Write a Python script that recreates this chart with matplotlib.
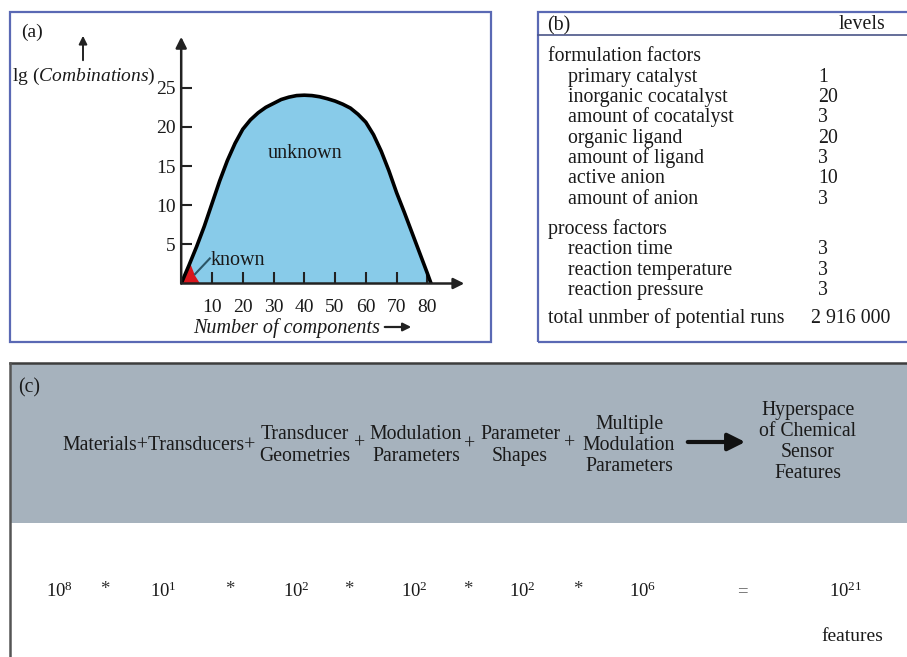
import numpy as np
import matplotlib
matplotlib.use("Agg")
import matplotlib.pyplot as plt
from matplotlib.patches import Rectangle, FancyArrowPatch
from matplotlib.lines import Line2D

plt.rcParams['font.family'] = ['Liberation Serif', 'DejaVu Serif']
plt.rcParams['mathtext.fontset'] = 'custom'
plt.rcParams['mathtext.rm'] = 'Liberation Serif'
plt.rcParams['mathtext.it'] = 'Liberation Serif:italic'

# ---------------- data ----------------
# (a) lg(combinations) vs number of components
curve_x = [0, 2.5, 5, 7.5, 10, 12.5, 15, 17.5, 20, 22.5, 25, 27.5, 30, 32.5, 35, 37.5, 40,
           42.5, 45, 47.5, 50, 52.5, 55, 57.5, 60, 62.5, 65, 67.5, 70, 72.5, 75, 77.5, 80, 81.2]
curve_y = [0, 2.3, 4.7, 7.3, 10.2, 13.1, 15.7, 17.9, 19.7, 20.9, 21.8, 22.5, 23.0, 23.5, 23.8, 24.0, 24.05,
           24.0, 23.85, 23.6, 23.3, 22.9, 22.4, 21.6, 20.6, 19.0, 16.9, 14.4, 11.6, 9.1, 6.5, 3.9, 1.3, 0]
known_x = [0, 1.5, 2.9, 4.5, 6.1]
known_y = [0, 1.6, 2.6, 1.0, 0]
x_ticks = [10, 20, 30, 40, 50, 60, 70, 80]
y_ticks = [5, 10, 15, 20, 25]

# (b) factors and levels
form_names = ['primary catalyst', 'inorganic cocatalyst', 'amount of cocatalyst',
              'organic ligand', 'amount of ligand', 'active anion', 'amount of anion']
form_levels = [1, 20, 3, 20, 3, 10, 3]
proc_names = ['reaction time', 'reaction temperature', 'reaction pressure']
proc_levels = [3, 3, 3]

# (c) sensor feature hyperspace
c_terms = ['Materials', 'Transducers', 'Transducer\nGeometries', 'Modulation\nParameters',
           'Parameter\nShapes', 'Multiple\nModulation\nParameters']
c_exponents = [8, 1, 2, 2, 2, 6]
c_result = 'Hyperspace\nof Chemical\nSensor\nFeatures'

# ---------------- figure ----------------
W, H = 907, 657
fig = plt.figure(figsize=(W / 100, H / 100), dpi=100)
def FX(px): return px / W
def FY(py): return 1 - py / H

TXT = '#1a1a1a'
BLUE = '#5a69b4'

# ---------- panel frames ----------
fig.add_artist(Rectangle((FX(10), FY(342)), FX(491) - FX(10), FY(12) - FY(342),
                         transform=fig.transFigure, fill=False, ec=BLUE, lw=1.6))
fig.add_artist(Rectangle((FX(538), FY(342)), FX(912) - FX(538), FY(12) - FY(342),
                         transform=fig.transFigure, fill=False, ec=BLUE, lw=1.6))
fig.add_artist(Line2D([FX(538), FX(907)], [FY(35), FY(35)], transform=fig.transFigure,
                      color='#4a5588', lw=1.2))

# panel (c) background
fig.add_artist(Rectangle((FX(10), FY(523)), FX(912) - FX(10), FY(363) - FY(523),
                         transform=fig.transFigure, fc='#a6b2bd', ec='none', zorder=0))
fig.add_artist(Line2D([FX(10), FX(907)], [FY(363), FY(363)], transform=fig.transFigure,
                      color='#3d3d3d', lw=1.8))
fig.add_artist(Line2D([FX(10), FX(10)], [FY(363), FY(660)], transform=fig.transFigure,
                      color='#555555', lw=1.8))

# ---------- panel (a) ----------
x_px0, x_scale = 181.2, 3.077
y_px0, y_scale = 283.5, 7.83
xmax, ymax = 92, 31.5
ax = fig.add_axes([FX(x_px0), FY(y_px0), xmax * x_scale / W, ymax * y_scale / H])
ax.set_xlim(0, xmax)
ax.set_ylim(0, ymax)
ax.patch.set_alpha(0)
for s in ax.spines.values():
    s.set_visible(False)

ax.fill_between(curve_x, curve_y, 0, color='#88cbe9', lw=0, zorder=1)
ax.fill(known_x, known_y, color='#d9161d', lw=0, zorder=2)
ax.plot(curve_x, curve_y, color='black', lw=2.6, zorder=3,
        solid_capstyle='round', solid_joinstyle='round')

ax.annotate('', xy=(xmax, 0), xytext=(0, 0), annotation_clip=False,
            arrowprops=dict(arrowstyle='-|>', color='#222222', lw=1.8, mutation_scale=16,
                            shrinkA=0, shrinkB=0), zorder=4)
ax.annotate('', xy=(0, ymax), xytext=(0, 0), annotation_clip=False,
            arrowprops=dict(arrowstyle='-|>', color='#222222', lw=1.8, mutation_scale=16,
                            shrinkA=0, shrinkB=0), zorder=4)

ax.set_xticks(x_ticks)
ax.set_yticks(y_ticks)
ax.tick_params(direction='in', length=8, width=1.5, color='#222222',
               labelsize=14, labelcolor=TXT)
ax.tick_params(axis='x', pad=11)
ax.tick_params(axis='y', pad=4)

ax.text(40.2, 16.0, 'unknown', fontsize=14.5, color=TXT, ha='center', va='baseline', zorder=5)
ax.text(9.5, 2.4, 'known', fontsize=14.5, color=TXT, ha='left', va='baseline', zorder=5)
ax.plot([4.5, 9.3], [1.2, 3.2], color='#2b5566', lw=1.5, zorder=4)

fig.text(FX(21), FY(37), '(a)', fontsize=14, color=TXT, ha='left', va='baseline')
fig.text(FX(12), FY(81), r'lg ($\mathit{Combinations}$)', fontsize=14, color=TXT,
         ha='left', va='baseline')
fig.add_artist(FancyArrowPatch(
    (FX(83), FY(63)), (FX(83), FY(33)), transform=fig.transFigure,
    arrowstyle='-|>', mutation_scale=12, color='#222222', lw=1.4))
fig.text(FX(287), FY(333), 'Number of components', fontsize=14.5, style='italic',
         color=TXT, ha='center', va='baseline')
fig.add_artist(FancyArrowPatch(
    (FX(382), FY(327)), (FX(414), FY(327)), transform=fig.transFigure,
    arrowstyle='-|>', mutation_scale=12, color='#222222', lw=1.6))

# ---------- panel (b) ----------
FS_B = 14.3
fig.text(FX(547), FY(30), '(b)', fontsize=FS_B, color=TXT, va='baseline')
fig.text(FX(839), FY(29), 'levels', fontsize=FS_B, color=TXT, va='baseline')
fig.text(FX(548), FY(61), 'formulation factors', fontsize=FS_B, color=TXT, va='baseline')
row = 20.35
for i, (n, v) in enumerate(zip(form_names, form_levels)):
    yb = 81.6 + i * row
    fig.text(FX(568), FY(yb), n, fontsize=FS_B, color=TXT, va='baseline')
    fig.text(FX(818), FY(yb), str(v), fontsize=FS_B, color=TXT, va='baseline')
fig.text(FX(548), FY(234), 'process factors', fontsize=FS_B, color=TXT, va='baseline')
for i, (n, v) in enumerate(zip(proc_names, proc_levels)):
    yb = 254.5 + i * row
    fig.text(FX(568), FY(yb), n, fontsize=FS_B, color=TXT, va='baseline')
    fig.text(FX(818), FY(yb), str(v), fontsize=FS_B, color=TXT, va='baseline')
total = int(np.prod(form_levels + proc_levels))
total_str = f'{total:,}'.replace(',', ' ')
fig.text(FX(548), FY(323), 'total unmber of potential runs', fontsize=FS_B, color=TXT, va='baseline')
fig.text(FX(811), FY(323), total_str, fontsize=FS_B, color=TXT, va='baseline')

# ---------- panel (c) ----------
FS_C = 14.2
LS = 21.2
fig.text(FX(18), FY(392), '(c)', fontsize=FS_C, color=TXT, va='baseline')

def block(text, xc, base_mid):
    lines = text.split('\n')
    n = len(lines)
    for i, ln in enumerate(lines):
        yb = base_mid + (i - (n - 1) / 2) * LS
        fig.text(FX(xc), FY(yb), ln, fontsize=FS_C, color=TXT, ha='center', va='baseline')

fig.text(FX(62), FY(450), c_terms[0] + '+' + c_terms[1] + '+', fontsize=FS_C, color=TXT,
         ha='left', va='baseline')
block(c_terms[2], 305, 450)
fig.text(FX(360), FY(449), '+', fontsize=FS_C, color=TXT, ha='center', va='baseline')
block(c_terms[3], 416, 450)
fig.text(FX(470), FY(450), '+', fontsize=FS_C, color=TXT, ha='center', va='baseline')
block(c_terms[4], 520, 450)
fig.text(FX(570), FY(449), '+', fontsize=FS_C, color=TXT, ha='center', va='baseline')
block(c_terms[5], 629, 450)
fig.add_artist(FancyArrowPatch(
    (FX(685), FY(442)), (FX(748), FY(442)), transform=fig.transFigure,
    arrowstyle='-|>', mutation_scale=26, color='#111111', lw=3.0))
block(c_result, 808, 446.5)

# bottom equation row
val_x = [59, 163, 296, 414, 522, 643]
star_x = [105, 230, 349, 468, 578]
FS_N = 13.5
for xv, e in zip(val_x, c_exponents):
    fig.text(FX(xv), FY(597), r'$\mathrm{10^{%d}}$' % e, fontsize=FS_N, color=TXT,
             ha='center', va='baseline')
for xs in star_x:
    fig.text(FX(xs), FY(594), '*', fontsize=FS_N, color='#333333', ha='center', va='baseline')
fig.text(FX(742), FY(596), '=', fontsize=FS_N, color='#555555', ha='center', va='baseline')
fig.text(FX(846), FY(597), r'$\mathrm{10^{%d}}$' % sum(c_exponents), fontsize=FS_N,
         color=TXT, ha='center', va='baseline')
fig.text(FX(852), FY(641), 'features', fontsize=14, color=TXT, ha='center', va='baseline')

fig.savefig('out.png', dpi=100)
